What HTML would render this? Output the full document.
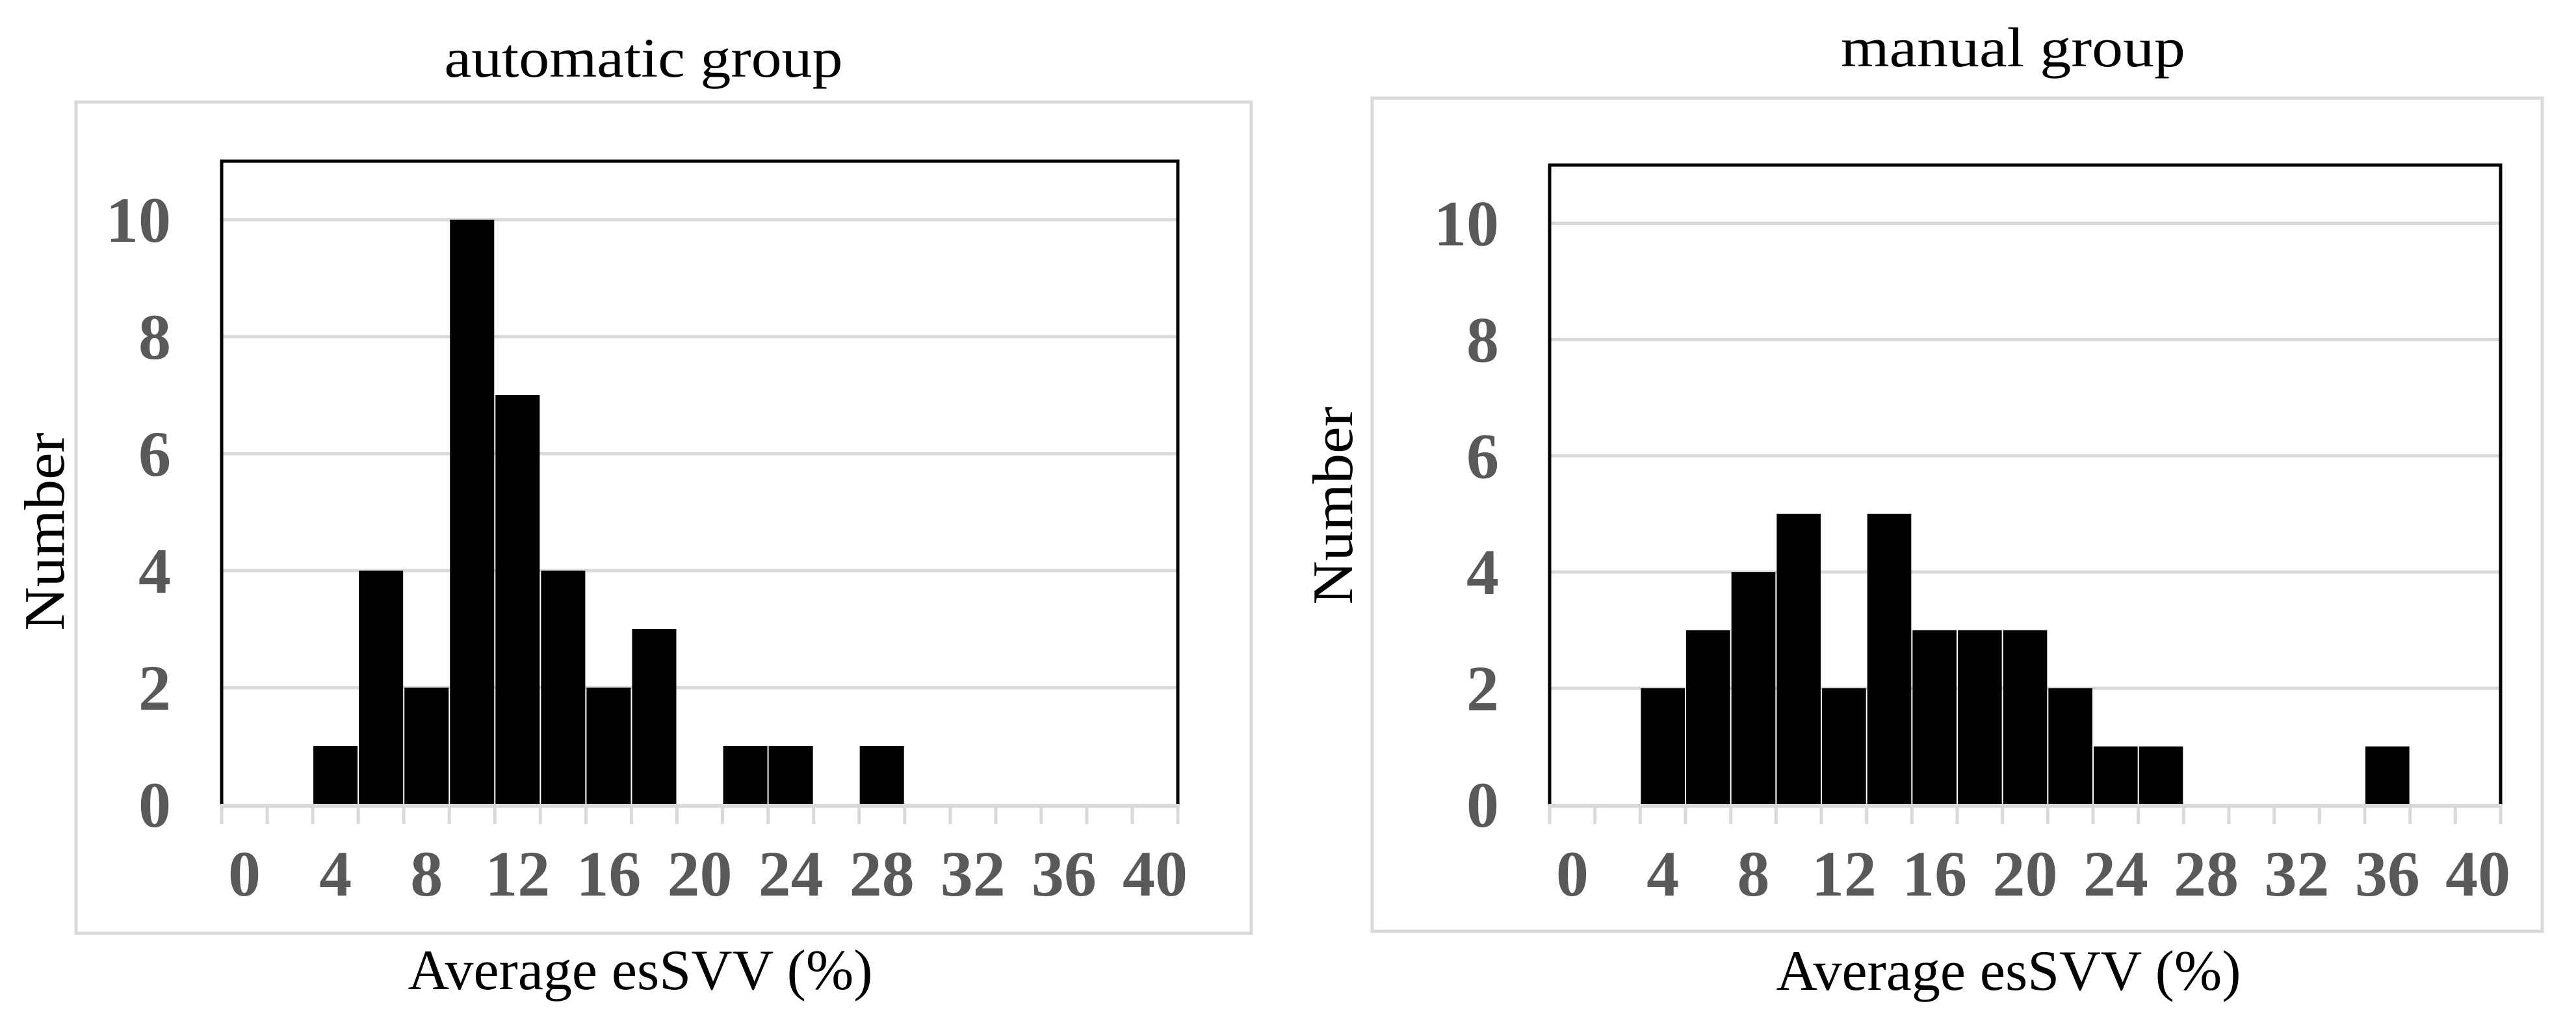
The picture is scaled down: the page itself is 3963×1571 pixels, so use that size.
<!DOCTYPE html>
<html><head><meta charset="utf-8"><style>
html,body{margin:0;padding:0;background:#fff;}
svg{display:block;}
text{font-family:"Liberation Serif",serif;}
</style></head><body>
<svg id="chart" width="3963" height="1571" viewBox="0 0 3963 1571" xmlns="http://www.w3.org/2000/svg"></svg>
<script>
const categories = [0,2,4,6,8,10,12,14,16,18,20,22,24,26,28,30,32,34,36,38,40];
const autoCounts = [0,0,1,4,2,10,7,4,2,3,0,1,1,0,1,0,0,0,0,0,0];
const manualCounts = [0,0,2,3,4,5,2,5,3,3,3,2,1,1,0,0,0,0,1,0,0];
const yTicks = [0,2,4,6,8,10];
const yMax = 11;

const NS = "http://www.w3.org/2000/svg";
const svg = document.getElementById('chart');
function mk(tag, attrs, parent) {
  const e = document.createElementNS(NS, tag);
  for (const k in attrs) e.setAttribute(k, attrs[k]);
  (parent || svg).appendChild(e);
  return e;
}

function drawPanel(cfg) {
  const g = mk('g', {});
  
  
  const frame = mk('rect', {x: cfg.fx, y: cfg.fy, width: cfg.fw, height: cfg.fh, fill: 'none', stroke: '#d9d9d9', 'stroke-width': 5}, g);
  
  
  const t = mk('text', {x: cfg.titleX, y: cfg.titleY, 'font-size': 86, 'text-anchor': 'middle', fill: '#000', textLength: cfg.titleLen, lengthAdjust: 'spacingAndGlyphs'}, g);
  t.textContent = cfg.title;
  
  

  const L = cfg.px, R = cfg.px + cfg.pw, T = cfg.py, B = cfg.py + cfg.ph;
  const n = categories.length;
  const bw = cfg.pw / n;
  const xPos = i => L + i * bw;
  const yPos = v => B - v / yMax * cfg.ph;

  yTicks.forEach(v => {
    if (v > 0) {
      const gl = mk('line', {x1: L, x2: R, y1: yPos(v), y2: yPos(v), stroke: '#d9d9d9', 'stroke-width': 5}, g);
      
      
    }
    const lb = mk('text', {x: L - 78, y: yPos(v) + 34, 'font-size': 100, 'font-weight': 'bold', 'text-anchor': 'end', fill: '#595959'}, g);
    lb.textContent = v;
    
    
  });

  cfg.values.forEach((v, i) => {
    if (v <= 0) return;
    const r = mk('rect', {x: xPos(i) + 1, y: yPos(v), width: bw - 2, height: B - yPos(v), fill: '#000'}, g);
    
    
  });

  const pb = mk('path', {d: `M${L},${B} L${L},${T} L${R},${T} L${R},${B}`, fill: 'none', stroke: '#000', 'stroke-width': 5}, g);
  
  
  const ax = mk('line', {x1: L - 2, x2: R + 2, y1: B + 2, y2: B + 2, stroke: '#d9d9d9', 'stroke-width': 6}, g);
  
  
  for (let i = 0; i <= n; i++) {
    const tk = mk('line', {x1: xPos(i), x2: xPos(i), y1: B, y2: B + 30, stroke: '#d9d9d9', 'stroke-width': 5}, g);
    
    
  }
  categories.forEach((c, i) => {
    if (i % 2 !== 0) return;
    const lb = mk('text', {x: xPos(i) + bw / 2, y: B + 140, 'font-size': 100, 'font-weight': 'bold', 'text-anchor': 'middle', fill: '#595959'}, g);
    lb.textContent = c;
    
    
  });

  const xt = mk('text', {x: cfg.xtX, y: cfg.xtY, 'font-size': 88, 'text-anchor': 'middle', fill: '#000', textLength: 715, lengthAdjust: 'spacingAndGlyphs'}, g);
  xt.textContent = 'Average esSVV (%)';
  
  
  const yt = mk('text', {x: 0, y: 0, 'font-size': 88, 'text-anchor': 'middle', fill: '#000', transform: `translate(${cfg.ytX},${cfg.ytY}) rotate(-90)`, textLength: 305, lengthAdjust: 'spacingAndGlyphs'}, g);
  yt.textContent = 'Number';
  
  
}

drawPanel({name: 'automatic', title: 'automatic group', values: autoCounts,
  fx: 117, fy: 157, fw: 1808, fh: 1279, titleX: 990, titleY: 118, titleLen: 613,
  px: 341, py: 248, pw: 1471, ph: 990, xtX: 985, xtY: 1522, ytX: 98, ytY: 818});
drawPanel({name: 'manual', title: 'manual group', values: manualCounts,
  fx: 2111, fy: 151, fw: 1800, fh: 1282, titleX: 3097, titleY: 102, titleLen: 530,
  px: 2384, py: 254, pw: 1463, ph: 984, xtX: 3090, xtY: 1523, ytX: 2080, ytY: 778});
</script>
</body></html>
